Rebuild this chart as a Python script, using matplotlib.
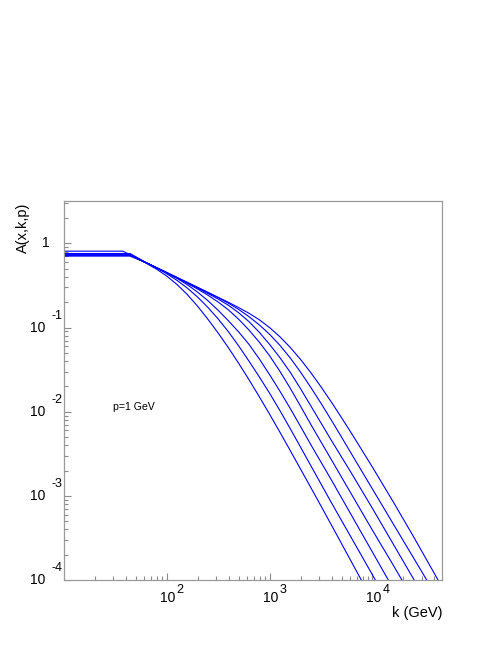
import numpy as np
import matplotlib
matplotlib.use("Agg")
import matplotlib.pyplot as plt
from matplotlib.ticker import LogLocator, NullFormatter

plt.rcParams['font.family'] = ['Liberation Sans', 'DejaVu Sans']

# Points : log10(k) commun à toutes les courbes
log_k = [1.0, 1.574, 1.643, 1.8, 1.9, 2.0, 2.1, 2.2, 2.3, 2.4, 2.5, 2.6, 2.7, 2.8,
         2.9, 3.0, 3.1, 3.2, 3.3, 3.4, 3.5, 3.6, 3.7, 3.8, 4.0, 4.2, 4.4, 4.6, 4.8]

# log10 A(x,k,p) pour les sept courbes (de la plus à gauche à la plus à droite)
log_a_1 = [-0.092, -0.092, -0.135, -0.235, -0.305, -0.387, -0.488, -0.607, -0.746, -0.90,
           -1.065, -1.24, -1.426, -1.62, -1.822, -2.03, -2.243, -2.46, -2.68, -2.90,
           -3.122, -3.345, -3.57, -3.795, -4.245, -4.70, -5.15, -5.60, -6.05]
log_a_2 = [-0.120, -0.120, -0.120, -0.229, -0.291, -0.36, -0.439, -0.53, -0.637, -0.76,
           -0.8975, -1.05, -1.219, -1.40, -1.586, -1.78, -1.986, -2.20, -2.419, -2.64,
           -2.86, -3.08, -3.295, -3.51, -3.94, -4.38, -4.82, -5.26, -5.70]
log_a_3 = [-0.125, -0.125, -0.125, -0.229, -0.288, -0.35, -0.4155, -0.49, -0.579, -0.68,
           -0.7945, -0.92, -1.0525, -1.20, -1.3725, -1.56, -1.7555, -1.96, -2.174, -2.39,
           -2.60, -2.81, -3.025, -3.24, -3.67, -4.10, -4.54, -4.98, -5.42]
log_a_4 = [-0.130, -0.130, -0.130, -0.229, -0.288, -0.348, -0.410, -0.475, -0.542, -0.615,
           -0.6965, -0.79, -0.902, -1.03, -1.1735, -1.335, -1.5195, -1.72, -1.933, -2.15,
           -2.36, -2.57, -2.78, -2.99, -3.41, -3.82, -4.24, -4.66, -5.08]
log_a_5 = [-0.140, -0.140, -0.140, -0.229, -0.288, -0.347, -0.407, -0.468, -0.530, -0.595,
           -0.661, -0.735, -0.8245, -0.93, -1.0565, -1.20, -1.357, -1.53, -1.725, -1.93,
           -2.135, -2.34, -2.54, -2.74, -3.15, -3.57, -3.99, -4.41, -4.84]
log_a_6 = [-0.145, -0.145, -0.145, -0.229, -0.288, -0.347, -0.4065, -0.466, -0.525, -0.585,
           -0.645, -0.71, -0.785, -0.87, -0.968, -1.08, -1.211, -1.36, -1.528, -1.71,
           -1.901, -2.10, -2.304, -2.51, -2.92, -3.33, -3.74, -4.15, -4.56]
log_a_7 = [-0.150, -0.150, -0.150, -0.229, -0.287, -0.345, -0.4035, -0.462, -0.521, -0.58,
           -0.64, -0.70, -0.763, -0.83, -0.9075, -1.00, -1.109, -1.235, -1.3775, -1.535,
           -1.705, -1.885, -2.0725, -2.265, -2.66, -3.068, -3.488, -3.92, -4.36]

courbes = [log_a_1, log_a_2, log_a_3, log_a_4, log_a_5, log_a_6, log_a_7]

# Décades étiquetées sur chaque axe
decades_x = [2, 3, 4]
decades_y = [-4, -3, -2, -1, 0]


def tracer_graphique():
    fig = plt.figure(figsize=(4.98, 6.45), dpi=100)
    ax = fig.add_axes([0.129, 0.1008, 0.759, 0.5868])

    k = 10 ** np.array(log_k)
    for log_a in courbes:
        ax.plot(k, 10 ** np.array(log_a), color='#0000ff', linewidth=0.8)

    ax.set_xscale('log')
    ax.set_yscale('log')
    ax.set_xlim(10.1, 4.76e4)
    ax.set_ylim(1e-4, 3.15)

    # Graduations style ROOT : vers l'intérieur, gris, sans étiquettes automatiques
    for axis in (ax.xaxis, ax.yaxis):
        axis.set_major_locator(LogLocator(base=10, numticks=20))
        axis.set_minor_locator(LogLocator(base=10, subs=np.arange(2, 10), numticks=20))
        axis.set_minor_formatter(NullFormatter())
    ax.tick_params(which='both', direction='in', top=False, right=False,
                   color='#8a8a8a', width=0.8, labelleft=False, labelbottom=False)
    ax.tick_params(which='major', length=5.2)
    ax.tick_params(which='minor', length=2.6)
    for spine in ax.spines.values():
        spine.set_color('#9a9a9a')
        spine.set_linewidth(0.9)

    # Étiquettes de l'axe y : "1" puis 10 avec exposant décalé
    for e in decades_y:
        if e == 0:
            ax.annotate('1', xy=(0, 1.0), xycoords=('axes fraction', 'data'),
                        xytext=(-15, 0), textcoords='offset pixels',
                        ha='right', va='center', fontsize=10)
            continue
        ax.annotate('10', xy=(0, 10.0 ** e), xycoords=('axes fraction', 'data'),
                    xytext=(-19, 0), textcoords='offset pixels',
                    ha='right', va='center', fontsize=10)
        ax.annotate(str(e), xy=(0, 10.0 ** e), xycoords=('axes fraction', 'data'),
                    xytext=(-12.5, 12), textcoords='offset pixels',
                    ha='left', va='center', fontsize=9)

    # Étiquettes de l'axe x
    for e in decades_x:
        ax.annotate('10', xy=(10.0 ** e, 0), xycoords=('data', 'axes fraction'),
                    xytext=(1, -18), textcoords='offset pixels',
                    ha='center', va='center', fontsize=10)
        ax.annotate(str(e), xy=(10.0 ** e, 0), xycoords=('data', 'axes fraction'),
                    xytext=(10, -10), textcoords='offset pixels',
                    ha='left', va='center', fontsize=9)

    fig.text(23 / 498, 1 - 203 / 645, 'A(x,k,p)', rotation=90,
             ha='center', va='top', fontsize=10.5)
    fig.text(442 / 498, 1 - 613.5 / 645, 'k (GeV)', ha='right', va='center',
             fontsize=10.5)
    ax.text(30, 0.0104, 'p=1 GeV', ha='left', va='baseline', fontsize=7.6)

    fig.savefig('out.png', dpi=100)


if __name__ == "__main__":
    tracer_graphique()
